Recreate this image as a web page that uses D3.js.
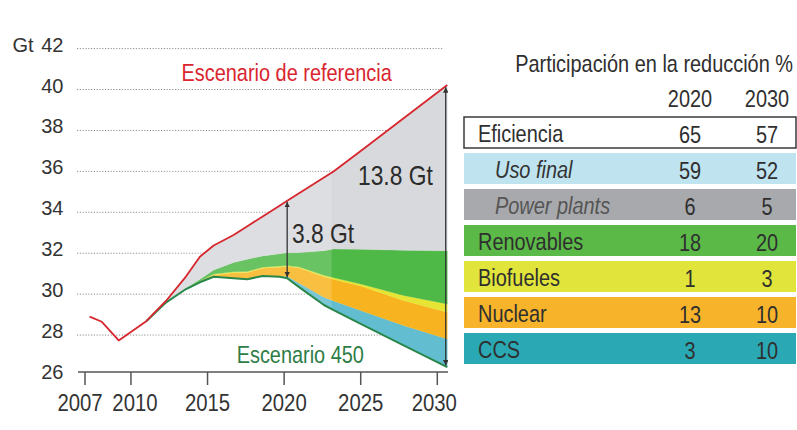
<!DOCTYPE html>
<html>
<head>
<meta charset="utf-8">
<script src="https://cdn.jsdelivr.net/npm/d3@7"></script>
<style>
  html, body { margin: 0; padding: 0; background: #fff; }
  svg { display: block; }
  text { font-family: "Liberation Sans", Arial, sans-serif; }
</style>
</head>
<body>
<div id="chart"></div>
<script>
// ---------------- data ----------------
const histYears = [2007.3, 2008.1, 2009.2];
const histValues = [28.9, 28.65, 27.74];

const years =        [2011.0, 2012.3, 2013.6, 2014.5, 2015.4, 2016.7, 2017.6, 2018.6, 2019.7, 2020.2, 2021.0, 2022.6, 2023.2, 2025.0, 2027.8, 2030.65];
const referencia =   [28.68,  29.68,  30.87,  31.83,  32.38,  32.89,  33.32,  33.80,  34.32,  34.56,  34.94,  35.70,  35.98,  37.00,  38.60,  40.22];
const escenario450 = [28.68,  29.60,  30.25,  30.58,  30.85,  30.78,  30.73,  30.89,  30.85,  30.78,  30.33,  29.47,  29.23,  28.55,  27.50,  26.43];
const ccs =          [0,      0,      0,      0,      0,      0,      0,      0,      0.02,   0.10,   0.20,   0.38,   0.45,   0.65,   0.97,   1.38];
const nuclear =      [0,      0,      0,      0.02,   0.08,   0.27,   0.33,   0.38,   0.45,   0.47,   0.75,   1.00,   1.05,   1.20,   1.22,   1.31];
const biofueles =    [0,      0,      0,      0.03,   0.05,   0.05,   0.05,   0.05,   0.05,   0.05,   0.05,   0.07,   0.08,   0.10,   0.25,   0.40];
const renovables =   [0,      0,      0.05,   0.10,   0.20,   0.45,   0.60,   0.55,   0.60,   0.62,   0.70,   1.20,   1.40,   1.70,   2.20,   2.60];

const xTicks = [2007, 2010, 2015, 2020, 2025, 2030];
const yTicks = [26, 28, 30, 32, 34, 36, 38, 40, 42];
const yUnit = "Gt";

const arrowYears = [2020.2, 2030.55];

const tableTitle = "Participación en la reducción %";
const tableYears = ["2020", "2030"];
const tableRows = ["Eficiencia", "Uso final", "Power plants", "Renovables", "Biofueles", "Nuclear", "CCS"];
const share2020 = [65, 59, 6, 18, 1, 13, 3];
const share2030 = [57, 52, 5, 20, 3, 10, 10];

// ---------------- layout / style ----------------
const W = 797, H = 430;
const SX = 0.83; // condensed look of the original typeface
const svg = d3.select("#chart").append("svg").attr("width", W).attr("height", H);

const x = d3.scaleLinear().domain([2007, 2030]).range([85, 437.3]);
const y = d3.scaleLinear().domain([26, 42]).range([376, 48.6]);
const axisY = 372;
const gridX0 = 77, gridX1 = 443;

function place(sel, xf, yf, sx = SX) {
  sel.attr("transform", (d, i) => {
    const px = typeof xf === "function" ? xf(d, i) : xf;
    const py = typeof yf === "function" ? yf(d, i) : yf;
    return `translate(${px},${py}) scale(${sx},1)`;
  });
}

const bandColors = {
  ccs: "#62bdd0",
  nuclear: "#f8b420",
  biofueles: "#e6e535",
  renovables: "#4fb948",
  eficiencia: "#d8d9dc"
};

// grid
svg.append("g").selectAll("line")
  .data(yTicks.filter(d => d > yTicks[0]))
  .join("line")
  .attr("x1", gridX0).attr("x2", gridX1)
  .attr("y1", d => y(d)).attr("y2", d => y(d))
  .attr("stroke", "#8c8c8c").attr("stroke-width", 1)
  .attr("stroke-dasharray", "1.2,1.6");

// stacked bands
const rows = years.map((yr, i) => ({
  year: yr,
  base: escenario450[i],
  ccs: ccs[i],
  nuclear: nuclear[i],
  biofueles: biofueles[i],
  renovables: renovables[i],
  eficiencia: referencia[i] - escenario450[i] - ccs[i] - nuclear[i] - biofueles[i] - renovables[i]
}));
const keys = ["base", "ccs", "nuclear", "biofueles", "renovables", "eficiencia"];
const stacked = d3.stack().keys(keys)(rows);

const area = d3.area()
  .x(d => x(d.data.year))
  .y0(d => y(d[0]))
  .y1(d => y(d[1]));

svg.append("g").selectAll("path")
  .data(stacked.filter(s => s.key !== "base"))
  .join("path")
  .attr("d", area)
  .attr("fill", s => bandColors[s.key])
  .attr("stroke", s => bandColors[s.key])
  .attr("stroke-width", 0.3);

// lighter wash over the earlier part (as in the print)
svg.append("rect")
  .attr("x", x(years[0])).attr("width", x(2023.1) - x(years[0]))
  .attr("y", y(36.5)).attr("height", axisY - y(36.5))
  .attr("fill", "#fff").attr("opacity", 0.15);

// lines
const line = d3.line().x(d => x(d[0])).y(d => y(d[1]));
const refPts = histYears.map((d, i) => [d, histValues[i]]).concat(years.map((d, i) => [d, referencia[i]]));
const s450Pts = years.map((d, i) => [d, escenario450[i]]);

svg.append("path").datum(s450Pts).attr("d", line)
  .attr("fill", "none").attr("stroke", "#2a874a").attr("stroke-width", 2)
  .attr("stroke-linejoin", "round");
svg.append("path").datum(refPts).attr("d", line)
  .attr("fill", "none").attr("stroke", "#d7262e").attr("stroke-width", 1.8)
  .attr("stroke-linejoin", "round");

// arrows
const defs = svg.append("defs");
defs.append("marker").attr("id", "ah")
  .attr("viewBox", "0 0 10 10").attr("refX", 10).attr("refY", 5)
  .attr("markerWidth", 5.5).attr("markerHeight", 5.5)
  .attr("markerUnits", "userSpaceOnUse")
  .attr("orient", "auto-start-reverse")
  .append("path").attr("d", "M0,0 L10,5 L0,10 z").attr("fill", "#333");

function interp(arr, yr) {
  const i = d3.bisector(d => d).right(years, yr) - 1;
  const j = Math.min(i + 1, years.length - 1);
  if (i === j) return arr[i];
  const t = (yr - years[i]) / (years[j] - years[i]);
  return arr[i] + t * (arr[j] - arr[i]);
}
svg.append("g").selectAll("line")
  .data(arrowYears)
  .join("line")
  .attr("x1", d => x(d)).attr("x2", d => x(d))
  .attr("y1", d => y(interp(referencia, d)) + 1)
  .attr("y2", d => y(interp(escenario450, d)) - 1)
  .attr("stroke", "#333").attr("stroke-width", 1.3)
  .attr("marker-start", "url(#ah)").attr("marker-end", "url(#ah)");

// x axis
const xa = svg.append("g");
xa.append("line").attr("x1", 78).attr("x2", 448).attr("y1", axisY).attr("y2", axisY)
  .attr("stroke", "#555").attr("stroke-width", 1.5);
xa.selectAll(".tk").data(xTicks).join("line").attr("class", "tk")
  .attr("x1", d => x(d)).attr("x2", d => x(d))
  .attr("y1", axisY).attr("y2", axisY + 13)
  .attr("stroke", "#555").attr("stroke-width", 1.5);
const xShift = (d, i) => i === 0 ? -5 : (i === 1 ? 4 : (i === xTicks.length - 1 ? -3 : 0));
xa.selectAll("text").data(xTicks).join("text")
  .call(place, (d, i) => x(d) + xShift(d, i), axisY + 31)
  .attr("dominant-baseline", "central")
  .attr("text-anchor", "middle")
  .attr("font-size", 24.5).attr("fill", "#333")
  .text(d => d);

// y axis labels
svg.append("g").selectAll("text").data(yTicks).join("text")
  .attr("x", 63.5).attr("y", d => y(d) - 4)
  .attr("dominant-baseline", "central").attr("text-anchor", "end")
  .attr("font-size", 20).attr("fill", "#333")
  .text(d => d);
svg.append("text")
  .attr("x", 12.5).attr("y", y(yTicks[yTicks.length - 1]) - 4)
  .attr("dominant-baseline", "central")
  .attr("font-size", 20).attr("fill", "#333")
  .text(yUnit);

// annotations
const ann = svg.append("g");
ann.append("text").call(place, x(2013.3), y(40.8))
  .attr("dominant-baseline", "central").attr("font-size", 24).attr("fill", "#d9262f")
  .text("Escenario de referencia");
ann.append("text").call(place, x(2016.9), y(27.03))
  .attr("dominant-baseline", "central").attr("font-size", 24).attr("fill", "#2e7d46")
  .text("Escenario 450");
ann.append("text").call(place, x(2024.82), y(35.82))
  .attr("dominant-baseline", "central").attr("font-size", 27.5).attr("fill", "#2b2b2b")
  .text("13.8 Gt");
ann.append("text").call(place, x(2020.51), y(33.0))
  .attr("dominant-baseline", "central").attr("font-size", 27.5).attr("fill", "#2b2b2b")
  .text("3.8 Gt");

// ---------------- table ----------------
const rowFill = ["#ffffff", "#c0e3f0", "#a8a9ac", "#5bb947", "#e1e43b", "#f7b42b", "#2aa9b5"];
const rowItalic = [false, true, true, false, false, false, false];
const rowTextColor = ["#2f2f2f", "#333", "#555", "#2f2f2f", "#2f2f2f", "#2f2f2f", "#2f2f2f"];
const tX0 = 464, tX1 = 796, rowTop = 117, rowPitch = 36, rowH = 31;
const col = [690, 767];

const tb = svg.append("g");
tb.append("text").call(place, 793, 63.5)
  .attr("text-anchor", "end").attr("dominant-baseline", "central")
  .attr("font-size", 24).attr("fill", "#2f2f2f").text(tableTitle);
tb.selectAll(".hd").data(tableYears).join("text").attr("class", "hd")
  .call(place, (d, i) => col[i], 98.5)
  .attr("text-anchor", "middle").attr("dominant-baseline", "central")
  .attr("font-size", 24).attr("fill", "#2f2f2f").text(d => d);

const rg = tb.selectAll(".row").data(tableRows).join("g").attr("class", "row")
  .attr("transform", (d, i) => `translate(0,${rowTop + i * rowPitch})`);
rg.append("rect")
  .attr("x", tX0).attr("width", tX1 - tX0).attr("height", rowH)
  .attr("fill", (d, i) => rowFill[i])
  .attr("stroke", (d, i) => i === 0 ? "#3a3a3a" : "none")
  .attr("stroke-width", 1.5);
rg.append("text")
  .call(place, (d, i) => rowItalic[i] ? 495 : 478, rowH / 2 + 1)
  .attr("dominant-baseline", "central")
  .attr("font-size", 24)
  .attr("font-style", (d, i) => rowItalic[i] ? "italic" : "normal")
  .attr("fill", (d, i) => rowTextColor[i])
  .text(d => d);
rg.append("text")
  .call(place, col[0], rowH / 2 + 2)
  .attr("text-anchor", "middle").attr("dominant-baseline", "central")
  .attr("font-size", 24).attr("fill", "#2f2f2f")
  .text((d, i) => share2020[i]);
rg.append("text")
  .call(place, col[1], rowH / 2 + 2)
  .attr("text-anchor", "middle").attr("dominant-baseline", "central")
  .attr("font-size", 24).attr("fill", "#2f2f2f")
  .text((d, i) => share2030[i]);
</script>
</body>
</html>
